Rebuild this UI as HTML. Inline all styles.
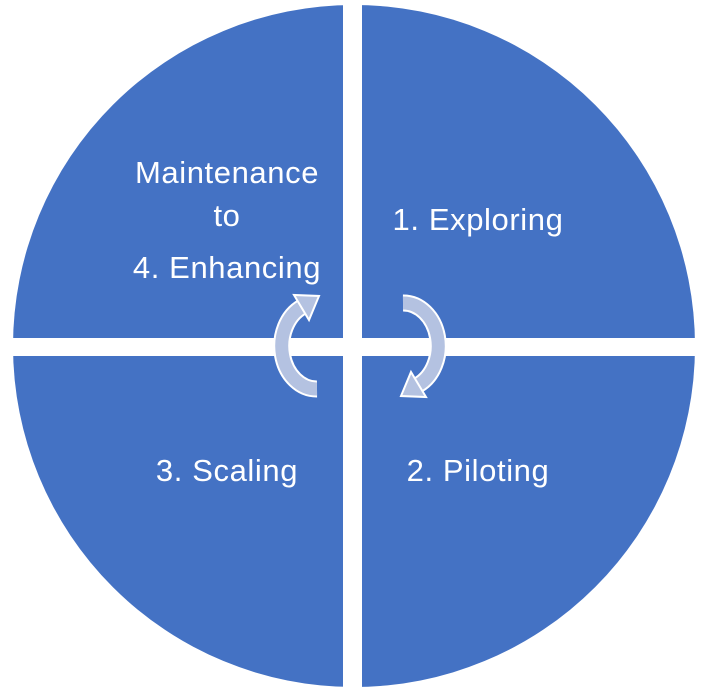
<!DOCTYPE html>
<html><head><style>
html,body{margin:0;padding:0;background:#fff;}
svg{display:block;}
text{font-family:"Liberation Sans",sans-serif;font-size:31px;letter-spacing:0.6px;fill:#fff;}
</style></head><body>
<svg width="714" height="694" viewBox="0 0 714 694">
<circle cx="354" cy="346" r="341" fill="#4472c4"/>
<rect x="343" y="0" width="19" height="694" fill="#fff"/>
<rect x="0" y="338" width="714" height="18" fill="#fff"/>
<text x="227" y="183" text-anchor="middle">Maintenance</text>
<text x="227" y="226" text-anchor="middle">to</text>
<text x="227" y="278" text-anchor="middle">4. Enhancing</text>
<text x="478" y="230" text-anchor="middle">1. Exploring</text>
<text x="478" y="481" text-anchor="middle">2. Piloting</text>
<text x="227" y="481" text-anchor="middle">3. Scaling</text>
<g id="arr">
<path d="M403,303 A35,43 0 0,1 418,385" fill="none" stroke="#fff" stroke-width="17"/>
<path d="M403,303 A35,43 0 0,1 418,385" fill="none" stroke="#b4c2e1" stroke-width="13"/>
<polygon points="426,397 411,372 401,396" fill="#b4c2e1" stroke="#fff" stroke-width="2" stroke-linejoin="miter"/>
</g>
<use href="#arr" transform="rotate(180 360 346)"/>
</svg>
</body></html>
